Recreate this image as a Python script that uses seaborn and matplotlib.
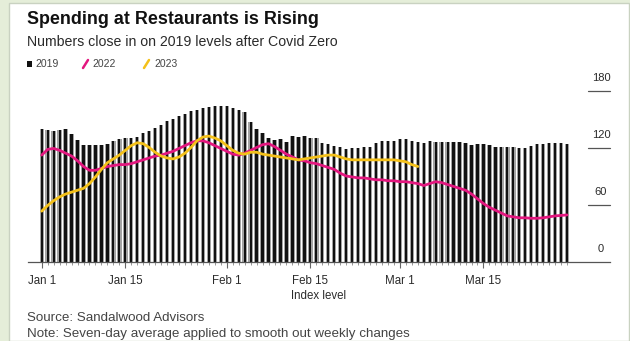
import matplotlib
matplotlib.use("Agg")
import matplotlib.pyplot as plt
from matplotlib.patches import Rectangle
from matplotlib.lines import Line2D
import numpy as np
import pandas as pd
import seaborn as sns

# Daily index values, Jan 1 onward
spend_2019 = [139.5, 138, 137, 138, 139, 134, 128, 123, 123, 123,
              123, 124, 127, 129, 130, 130, 131, 135, 137, 141,
              144, 148, 150, 153, 155, 158, 159, 162, 163, 164,
              164, 164, 162, 160, 157, 147, 140, 135, 130, 128,
              129, 126, 132, 131, 132, 130, 130, 125, 124, 122,
              121, 118, 119, 120, 121, 121, 125, 127, 127, 127,
              129, 128.5, 127, 125.5, 125, 127, 126, 125.5, 125.5, 126,
              125.5, 125, 122.5, 123.5, 123.5, 122.5, 121, 121, 121, 121,
              120, 120, 121.5, 123.5, 123.5, 124.5, 124.5, 124.5, 124]

spend_2022 = [112, 118, 119, 117, 114, 111, 106, 100, 96, 96,
              98, 100, 101, 102, 102, 103, 105, 107, 109, 111,
              112, 114, 116, 119, 122, 125, 127, 127, 125, 122,
              119, 116, 113, 112, 114, 117, 120, 123, 124, 121,
              117, 113, 110, 107, 106, 104, 103, 101, 99, 97,
              93, 90, 89, 88, 88, 87, 86, 86, 85, 85,
              84, 84, 83, 82, 80, 82, 84, 83, 81, 79,
              77, 75, 71, 66, 61, 57, 54, 51, 48, 47,
              46, 46, 45.5, 45.5, 46, 47, 48, 48.5, 49]

spend_2023 = [53, 59, 64, 68, 71, 73, 75, 77, 82, 89,
              97, 104, 108, 112, 117, 122, 125, 124, 120, 115,
              111, 109, 108, 110, 114, 120, 127, 131, 132, 130,
              127, 122, 117, 114, 113, 115, 115, 113, 112, 111,
              110, 109, 108, 107, 108, 109, 110, 111, 112, 112,
              110, 108, 107, 107, 107, 107, 107, 107, 107, 107,
              106, 105, 102, 100]

tick_days = [0, 14, 31, 45, 60, 74]
tick_labels = ["Jan 1", "Jan 15", "Feb 1", "Feb 15", "Mar 1", "Mar 15"]
y_ticks = [0, 60, 120, 180]

days = np.arange(len(spend_2019))
df19 = pd.DataFrame({"day": days, "value": spend_2019})
df22 = pd.DataFrame({"day": days[:len(spend_2022)], "value": spend_2022})
df23 = pd.DataFrame({"day": days[:len(spend_2023)], "value": spend_2023})

PINK = "#e3177f"
YELLOW = "#f4c11a"
TEXT = "#2a2a2a"
GREY_TEXT = "#444444"

sns.set_style("white")
plt.rcParams["font.family"] = ["Liberation Sans", "DejaVu Sans"]

W, H = 630, 341
fig = plt.figure(figsize=(W / 100, H / 100), dpi=100, facecolor="#e5eed9")

# white card behind everything
fig.patches.append(Rectangle((9 / W, 0), (629 - 9) / W, 1 - 3 / H,
                             transform=fig.transFigure, facecolor="white",
                             edgecolor="#c9d2c1", linewidth=1.0, zorder=-10))

y_base = 261.5
px_per_unit = 0.95
y_top = 185
ax = fig.add_axes([28 / W, (H - y_base) / H, (610 - 28) / W,
                   y_top * px_per_unit / H])
ax.set_zorder(5)
ax.set_facecolor("none")

# 2019 bars: grey body with a dark core, thin white gaps between days
sns.barplot(data=df19, x="day", y="value", color="#a3a3a3", width=0.74,
            saturation=1, errorbar=None, linewidth=0, edgecolor="none",
            ax=ax, zorder=2)
sns.barplot(data=df19, x="day", y="value", color="#111111", width=0.38,
            saturation=1, errorbar=None, linewidth=0, edgecolor="none",
            ax=ax, zorder=3)

sns.lineplot(data=df22, x="day", y="value", color=PINK, linewidth=2.0,
             ax=ax, zorder=5)
sns.lineplot(data=df23, x="day", y="value", color=YELLOW, linewidth=2.0,
             ax=ax, zorder=6)

ax.set_xlim(-2.3, 95.2)
ax.set_ylim(0, y_top)

for s in ["top", "right", "left"]:
    ax.spines[s].set_visible(False)
ax.spines["bottom"].set_color("#555555")
ax.spines["bottom"].set_linewidth(0.9)
ax.spines["bottom"].set_zorder(7)

ax.set_xticks(tick_days)
ax.set_xticklabels(tick_labels, fontsize=8.3, color=TEXT)
ax.set_xticks(days, minor=True)
ax.tick_params(axis="x", which="major", length=4, width=0.8, color="#666666",
               pad=6, direction="out", bottom=True)
ax.tick_params(axis="x", which="minor", length=2, width=0.6, color="#888888",
               direction="out", bottom=True)
ax.set_yticks([])
ax.set_xlabel("Index level", fontsize=8.3, color=TEXT, labelpad=2)
ax.set_ylabel("")

# value scale drawn on the right, label above a short rule
for v in y_ticks:
    ax.text(93.7, v + 13, str(v), fontsize=8, color=TEXT,
            ha="center", va="center", zorder=8)
    if v > 0:
        ax.plot([91.5, 95.2], [v, v], color="#555555", linewidth=0.9,
                clip_on=False, zorder=8)

def fy(px):
    return 1 - px / H

fig.text(27 / W, fy(19), "Spending at Restaurants is Rising", fontsize=12.9,
         fontweight="bold", color="#111111", va="center", ha="left")
fig.text(27 / W, fy(42), "Numbers close in on 2019 levels after Covid Zero",
         fontsize=10.2, color=TEXT, va="center", ha="left")

# legend row
leg_y = 64
fig.patches.append(Rectangle((27 / W, fy(leg_y + 3)), 5 / W, 6 / H,
                             transform=fig.transFigure, facecolor="#111111",
                             edgecolor="none"))
fig.text(35 / W, fy(leg_y), "2019", fontsize=7.5, color=GREY_TEXT, va="center")
fig.lines.append(Line2D([83 / W, 88 / W], [fy(leg_y + 4), fy(leg_y - 4)],
                        transform=fig.transFigure, color=PINK, linewidth=1.8))
fig.text(92 / W, fy(leg_y), "2022", fontsize=7.5, color=GREY_TEXT, va="center")
fig.lines.append(Line2D([144 / W, 149 / W], [fy(leg_y + 4), fy(leg_y - 4)],
                        transform=fig.transFigure, color=YELLOW, linewidth=1.8))
fig.text(154 / W, fy(leg_y), "2023", fontsize=7.5, color=GREY_TEXT, va="center")

fig.text(27 / W, fy(318), "Source: Sandalwood Advisors", fontsize=9.6,
         color=GREY_TEXT, va="center")
fig.text(27 / W, fy(334), "Note: Seven-day average applied to smooth out weekly changes",
         fontsize=9.6, color=GREY_TEXT, va="center")

fig.savefig("out.png", dpi=100, facecolor=fig.get_facecolor())
